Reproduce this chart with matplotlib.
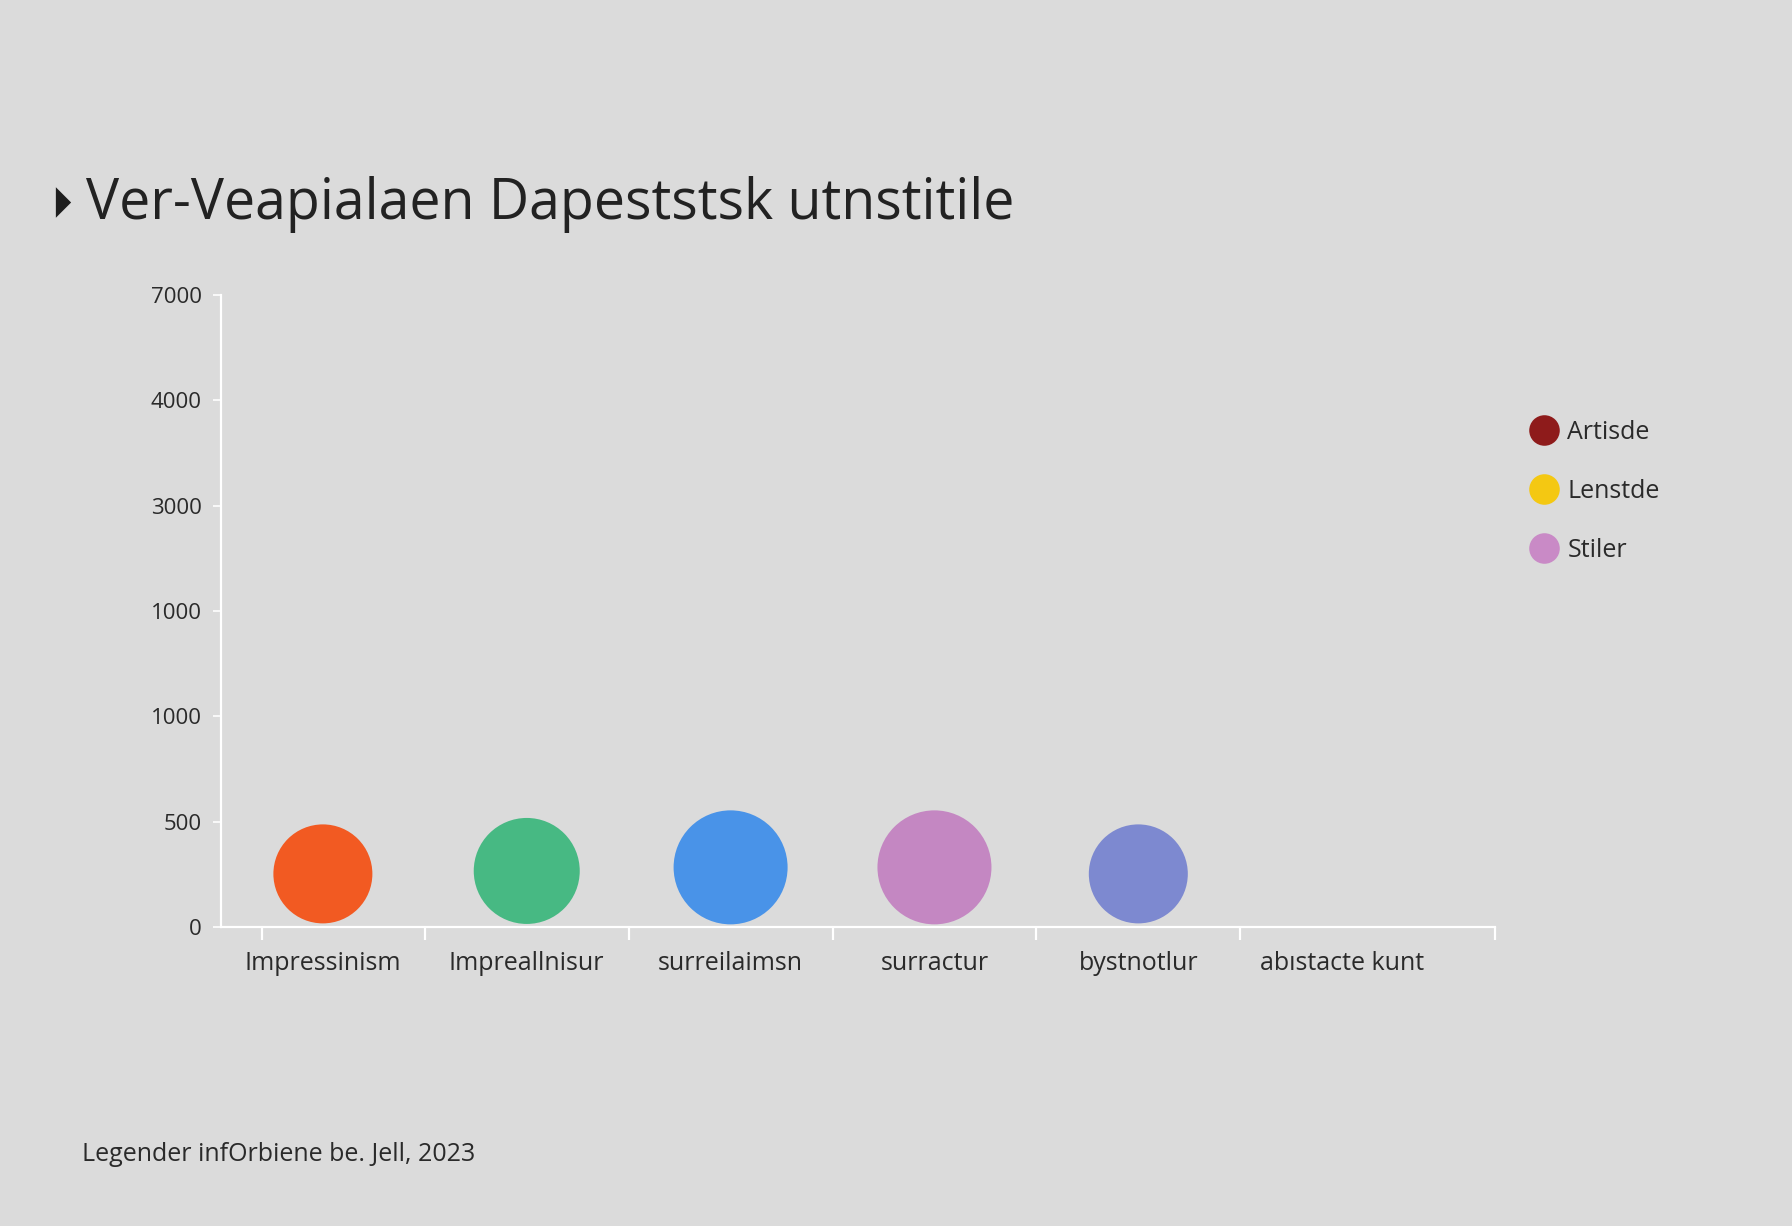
"""Bubble chart of art styles with a separate three-entry legend."""
import matplotlib
matplotlib.use("Agg")
import matplotlib.pyplot as plt
from matplotlib.lines import Line2D
import numpy as np

# --- data -----------------------------------------------------------------
categories = ["Impressinism", "Impreallnisur", "surreilaimsn",
              "surractur", "bystnotlur", "abıstacte kunt"]
values = [252, 266, 283, 283, 252]          # bubble centre values (first five styles)
weights = [99, 106, 114, 114, 99]           # bubble diameter weight
bubble_colors = ["#F25A22", "#47B983", "#4993E8", "#C487C2", "#7D89D0"]

ytick_labels = ["0", "500", "1000", "1000", "3000", "4000", "7000"]
legend_labels = ["Artisde", "Lenstde", "Stiler"]
legend_colors = ["#8E1B1B", "#F4C812", "#C98AC6"]

title = "Ver-Veapialaen Dapeststsk utnstitile"
footer = "Legender infOrbiene be. Jell, 2023"

# --- style ----------------------------------------------------------------
BG = "#DBDBDB"
TXT = "#2A2A2A"
plt.rcParams["font.family"] = ["Open Sans", "DejaVu Sans"]

fig = plt.figure(figsize=(17.92, 12.26), dpi=100, facecolor=BG)
ax = fig.add_axes([0.1233, 0.2439, 0.7110, 0.5155])
ax.set_facecolor(BG)

# y axis is a slot scale: each labelled step is 500 units of the first band
y_pos = np.asarray(values) / 500.0
x_pos = np.arange(len(values))
sizes = (np.asarray(weights) * 0.72) ** 2
ax.scatter(x_pos, y_pos, s=sizes, c=bubble_colors, linewidths=0, zorder=3,
           clip_on=False)

ax.set_xlim(-0.5, 5.75)
ax.set_ylim(0, len(ytick_labels) - 1)

for side in ("top", "right"):
    ax.spines[side].set_visible(False)
for side in ("left", "bottom"):
    ax.spines[side].set_color("white")
    ax.spines[side].set_linewidth(1.6)

ax.set_yticks(np.arange(len(ytick_labels)))
ax.set_yticklabels(ytick_labels)
ax.tick_params(axis="y", colors="white", labelcolor=TXT, length=6, width=1.2,
               pad=8, labelsize=16)

ax.set_xticks([-0.3, 0.5, 1.5, 2.5, 3.5, 4.5, 5.75])
ax.set_xticklabels([])
ax.tick_params(axis="x", which="major", colors="white", length=9, width=1.6)
ax.set_xticks(np.arange(len(categories)), minor=True)
ax.set_xticklabels(categories, minor=True)
ax.tick_params(axis="x", which="minor", length=0, pad=17, labelsize=18,
               labelcolor=TXT)

# title with small narrow arrow glyph
arrow = [(-0.5, -1.0), (0.5, 0.0), (-0.5, 1.0), (-0.5, -1.0)]
fig.add_artist(Line2D([0.0351], [0.8355], marker=arrow, markersize=22,
                      color="#1E1E1E", markeredgewidth=0,
                      transform=fig.transFigure))
fig.text(0.048, 0.833, title, fontsize=40, color="#222222", va="center",
         ha="left", fontweight="medium")

handles = [Line2D([], [], marker="o", ls="", markersize=22, color=c,
                  markeredgewidth=0) for c in legend_colors]
fig.legend(handles, legend_labels, loc="upper left",
           bbox_to_anchor=(0.8425, 0.676), frameon=False, fontsize=18,
           handlelength=0.9, handletextpad=0.5, labelspacing=1.36,
           labelcolor=TXT)

fig.text(0.0458, 0.0587, footer, fontsize=18, color=TXT, va="center",
         ha="left")

fig.savefig("out.png", dpi=100, facecolor=BG)
